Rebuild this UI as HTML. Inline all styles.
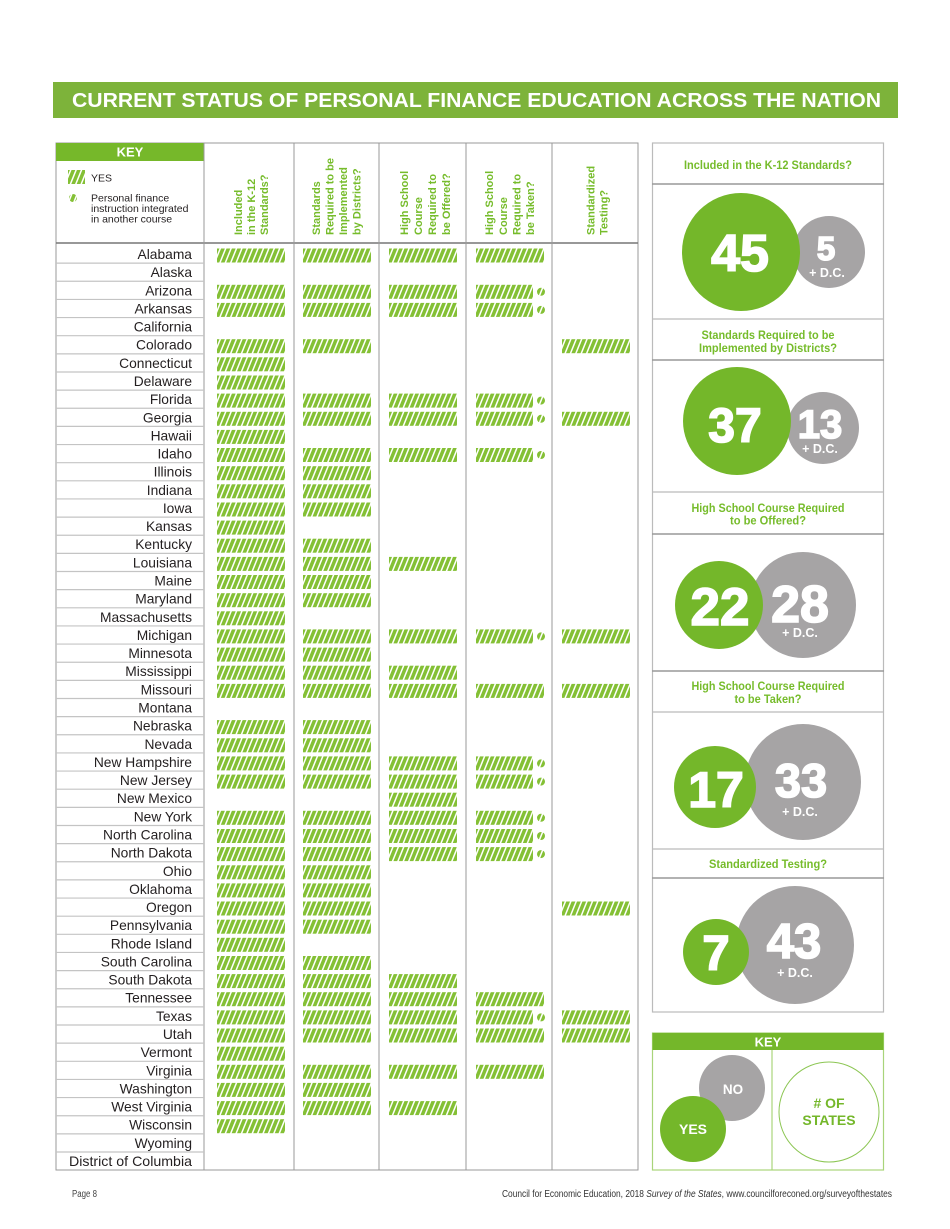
<!DOCTYPE html>
<html><head><meta charset="utf-8"><style>
html,body{margin:0;padding:0;background:#fff;}
svg{display:block;}
.b{fill:url(#st);}
.lab{font-size:13.8px;fill:#231f20;text-anchor:end;}
.hd{font-size:11px;font-weight:bold;fill:#76bc2b;}
.ph{font-size:12px;font-weight:bold;fill:#76bc2b;text-anchor:middle;}
.num{font-weight:bold;fill:#fff;text-anchor:middle;stroke:#fff;stroke-width:1.6;}
.dc{font-size:12.5px;font-weight:bold;fill:#fff;text-anchor:middle;}
</style></head><body>
<svg width="950" height="1229" viewBox="0 0 950 1229" font-family="'Liberation Sans', sans-serif">
<defs>
<pattern id="st" width="5" height="30" patternUnits="userSpaceOnUse" patternTransform="rotate(22)">
<rect width="5" height="30" fill="#fff"/><rect width="3.5" height="30" fill="#84c035"/>
</pattern>
<rect id="c1" class="b" x="217" width="68" height="14"/>
<rect id="c2" class="b" x="303" width="68" height="14"/>
<rect id="c3" class="b" x="389" width="68" height="14"/>
<rect id="c4" class="b" x="476" width="68" height="14"/>
<g id="c4i"><rect class="b" x="476" width="57" height="14"/><circle class="b" cx="541" cy="7" r="4"/></g>
<rect id="c5" class="b" x="562" width="68" height="14"/>
</defs>

<!-- Title -->
<rect x="53" y="82" width="845" height="36" fill="#7db33a"/>
<text x="72" y="107" font-size="20" font-weight="bold" fill="#fff" textLength="809" lengthAdjust="spacingAndGlyphs">CURRENT STATUS OF PERSONAL FINANCE EDUCATION ACROSS THE NATION</text>

<!-- Table frame -->
<rect x="56" y="143" width="582" height="1027" fill="none" stroke="#999" stroke-width="1"/>
<rect x="56" y="143" width="148" height="18" fill="#76b82a"/>
<text x="130" y="156.5" font-size="13" font-weight="bold" fill="#fff" text-anchor="middle">KEY</text>
<line x1="56" y1="243" x2="638" y2="243" stroke="#777" stroke-width="1.5"/>
<g stroke="#999" stroke-width="1">
<line x1="204" y1="143" x2="204" y2="1170"/>
<line x1="294" y1="143" x2="294" y2="1170"/>
<line x1="379" y1="143" x2="379" y2="1170"/>
<line x1="466" y1="143" x2="466" y2="1170"/>
<line x1="552" y1="143" x2="552" y2="1170"/>
</g>

<!-- left key -->
<rect class="b" x="68" y="170" width="17" height="14"/>
<text x="91" y="181.5" font-size="10.5" fill="#231f20">YES</text>
<circle class="b" cx="73" cy="198" r="4"/>
<text font-size="10.5" fill="#231f20"><tspan x="91" y="201.5">Personal finance</tspan><tspan x="91" y="212">instruction integrated</tspan><tspan x="91" y="222.5">in another course</tspan></text>

<!-- column headers -->
<g class="hd">
<text transform="translate(242,235) rotate(-90)">Included</text>
<text transform="translate(255,235) rotate(-90)">in the K-12</text>
<text transform="translate(268,235) rotate(-90)">Standards?</text>
<text transform="translate(320,235) rotate(-90)">Standards</text>
<text transform="translate(333.5,235) rotate(-90)">Required to be</text>
<text transform="translate(347,235) rotate(-90)">Implemented</text>
<text transform="translate(360.5,235) rotate(-90)">by Districts?</text>
<text transform="translate(408,235) rotate(-90)">High School</text>
<text transform="translate(422,235) rotate(-90)">Course</text>
<text transform="translate(436,235) rotate(-90)">Required to</text>
<text transform="translate(450,235) rotate(-90)">be Offered?</text>
<text transform="translate(493,235) rotate(-90)">High School</text>
<text transform="translate(507,235) rotate(-90)">Course</text>
<text transform="translate(520.5,235) rotate(-90)">Required to</text>
<text transform="translate(534,235) rotate(-90)">be Taken?</text>
<text transform="translate(594.5,235) rotate(-90)">Standardized</text>
<text transform="translate(607.5,235) rotate(-90)">Testing?</text>
</g>

<!-- row separators -->
<g stroke="#c4c4c4" stroke-width="1.2">
<line x1="56" x2="204" y1="263.14" y2="263.14"/><line x1="56" x2="204" y1="281.28" y2="281.28"/><line x1="56" x2="204" y1="299.42" y2="299.42"/><line x1="56" x2="204" y1="317.56" y2="317.56"/><line x1="56" x2="204" y1="335.7" y2="335.7"/><line x1="56" x2="204" y1="353.84" y2="353.84"/><line x1="56" x2="204" y1="371.98" y2="371.98"/><line x1="56" x2="204" y1="390.12" y2="390.12"/><line x1="56" x2="204" y1="408.26" y2="408.26"/><line x1="56" x2="204" y1="426.4" y2="426.4"/>
<line x1="56" x2="204" y1="444.54" y2="444.54"/><line x1="56" x2="204" y1="462.68" y2="462.68"/><line x1="56" x2="204" y1="480.82" y2="480.82"/><line x1="56" x2="204" y1="498.96" y2="498.96"/><line x1="56" x2="204" y1="517.1" y2="517.1"/><line x1="56" x2="204" y1="535.24" y2="535.24"/><line x1="56" x2="204" y1="553.38" y2="553.38"/><line x1="56" x2="204" y1="571.52" y2="571.52"/><line x1="56" x2="204" y1="589.66" y2="589.66"/><line x1="56" x2="204" y1="607.8" y2="607.8"/>
<line x1="56" x2="204" y1="625.94" y2="625.94"/><line x1="56" x2="204" y1="644.08" y2="644.08"/><line x1="56" x2="204" y1="662.22" y2="662.22"/><line x1="56" x2="204" y1="680.36" y2="680.36"/><line x1="56" x2="204" y1="698.5" y2="698.5"/><line x1="56" x2="204" y1="716.64" y2="716.64"/><line x1="56" x2="204" y1="734.78" y2="734.78"/><line x1="56" x2="204" y1="752.92" y2="752.92"/><line x1="56" x2="204" y1="771.06" y2="771.06"/><line x1="56" x2="204" y1="789.2" y2="789.2"/>
<line x1="56" x2="204" y1="807.34" y2="807.34"/><line x1="56" x2="204" y1="825.48" y2="825.48"/><line x1="56" x2="204" y1="843.62" y2="843.62"/><line x1="56" x2="204" y1="861.76" y2="861.76"/><line x1="56" x2="204" y1="879.9" y2="879.9"/><line x1="56" x2="204" y1="898.04" y2="898.04"/><line x1="56" x2="204" y1="916.18" y2="916.18"/><line x1="56" x2="204" y1="934.32" y2="934.32"/><line x1="56" x2="204" y1="952.46" y2="952.46"/><line x1="56" x2="204" y1="970.6" y2="970.6"/>
<line x1="56" x2="204" y1="988.74" y2="988.74"/><line x1="56" x2="204" y1="1006.88" y2="1006.88"/><line x1="56" x2="204" y1="1025.02" y2="1025.02"/><line x1="56" x2="204" y1="1043.16" y2="1043.16"/><line x1="56" x2="204" y1="1061.3" y2="1061.3"/><line x1="56" x2="204" y1="1079.44" y2="1079.44"/><line x1="56" x2="204" y1="1097.58" y2="1097.58"/><line x1="56" x2="204" y1="1115.72" y2="1115.72"/><line x1="56" x2="204" y1="1133.86" y2="1133.86"/><line x1="56" x2="204" y1="1152" y2="1152"/>
</g>

<!-- state labels -->
<g class="lab">
<text x="192" y="259">Alabama</text>
<text x="192" y="277.1">Alaska</text>
<text x="192" y="295.3">Arizona</text>
<text x="192" y="313.4">Arkansas</text>
<text x="192" y="331.6">California</text>
<text x="192" y="349.7">Colorado</text>
<text x="192" y="367.8">Connecticut</text>
<text x="192" y="386">Delaware</text>
<text x="192" y="404.1">Florida</text>
<text x="192" y="422.3">Georgia</text>
<text x="192" y="440.4">Hawaii</text>
<text x="192" y="458.5">Idaho</text>
<text x="192" y="476.7">Illinois</text>
<text x="192" y="494.8">Indiana</text>
<text x="192" y="513">Iowa</text>
<text x="192" y="531.1">Kansas</text>
<text x="192" y="549.2">Kentucky</text>
<text x="192" y="567.4">Louisiana</text>
<text x="192" y="585.5">Maine</text>
<text x="192" y="603.7">Maryland</text>
<text x="192" y="621.8">Massachusetts</text>
<text x="192" y="639.9">Michigan</text>
<text x="192" y="658.1">Minnesota</text>
<text x="192" y="676.2">Mississippi</text>
<text x="192" y="694.4">Missouri</text>
<text x="192" y="712.5">Montana</text>
<text x="192" y="730.6">Nebraska</text>
<text x="192" y="748.8">Nevada</text>
<text x="192" y="766.9">New Hampshire</text>
<text x="192" y="785.1">New Jersey</text>
<text x="192" y="803.2">New Mexico</text>
<text x="192" y="821.3">New York</text>
<text x="192" y="839.5">North Carolina</text>
<text x="192" y="857.6">North Dakota</text>
<text x="192" y="875.8">Ohio</text>
<text x="192" y="893.9">Oklahoma</text>
<text x="192" y="912">Oregon</text>
<text x="192" y="930.2">Pennsylvania</text>
<text x="192" y="948.3">Rhode Island</text>
<text x="192" y="966.5">South Carolina</text>
<text x="192" y="984.6">South Dakota</text>
<text x="192" y="1002.7">Tennessee</text>
<text x="192" y="1020.9">Texas</text>
<text x="192" y="1039">Utah</text>
<text x="192" y="1057.2">Vermont</text>
<text x="192" y="1075.3">Virginia</text>
<text x="192" y="1093.4">Washington</text>
<text x="192" y="1111.6">West Virginia</text>
<text x="192" y="1129.7">Wisconsin</text>
<text x="192" y="1147.9">Wyoming</text>
<text x="192" y="1166" textLength="123" lengthAdjust="spacingAndGlyphs">District of Columbia</text>
</g>

<!-- bars -->
<g transform="translate(0,248.5)"><use href="#c1"/><use href="#c2"/><use href="#c3"/><use href="#c4"/></g>
<g transform="translate(0,284.8)"><use href="#c1"/><use href="#c2"/><use href="#c3"/><use href="#c4i"/></g>
<g transform="translate(0,302.9)"><use href="#c1"/><use href="#c2"/><use href="#c3"/><use href="#c4i"/></g>
<g transform="translate(0,339.2)"><use href="#c1"/><use href="#c2"/><use href="#c5"/></g>
<g transform="translate(0,357.3)"><use href="#c1"/></g>
<g transform="translate(0,375.5)"><use href="#c1"/></g>
<g transform="translate(0,393.6)"><use href="#c1"/><use href="#c2"/><use href="#c3"/><use href="#c4i"/></g>
<g transform="translate(0,411.8)"><use href="#c1"/><use href="#c2"/><use href="#c3"/><use href="#c4i"/><use href="#c5"/></g>
<g transform="translate(0,429.9)"><use href="#c1"/></g>
<g transform="translate(0,448)"><use href="#c1"/><use href="#c2"/><use href="#c3"/><use href="#c4i"/></g>
<g transform="translate(0,466.2)"><use href="#c1"/><use href="#c2"/></g>
<g transform="translate(0,484.3)"><use href="#c1"/><use href="#c2"/></g>
<g transform="translate(0,502.5)"><use href="#c1"/><use href="#c2"/></g>
<g transform="translate(0,520.6)"><use href="#c1"/></g>
<g transform="translate(0,538.7)"><use href="#c1"/><use href="#c2"/></g>
<g transform="translate(0,556.9)"><use href="#c1"/><use href="#c2"/><use href="#c3"/></g>
<g transform="translate(0,575)"><use href="#c1"/><use href="#c2"/></g>
<g transform="translate(0,593.2)"><use href="#c1"/><use href="#c2"/></g>
<g transform="translate(0,611.3)"><use href="#c1"/></g>
<g transform="translate(0,629.4)"><use href="#c1"/><use href="#c2"/><use href="#c3"/><use href="#c4i"/><use href="#c5"/></g>
<g transform="translate(0,647.6)"><use href="#c1"/><use href="#c2"/></g>
<g transform="translate(0,665.7)"><use href="#c1"/><use href="#c2"/><use href="#c3"/></g>
<g transform="translate(0,683.9)"><use href="#c1"/><use href="#c2"/><use href="#c3"/><use href="#c4"/><use href="#c5"/></g>
<g transform="translate(0,720.1)"><use href="#c1"/><use href="#c2"/></g>
<g transform="translate(0,738.3)"><use href="#c1"/><use href="#c2"/></g>
<g transform="translate(0,756.4)"><use href="#c1"/><use href="#c2"/><use href="#c3"/><use href="#c4i"/></g>
<g transform="translate(0,774.6)"><use href="#c1"/><use href="#c2"/><use href="#c3"/><use href="#c4i"/></g>
<g transform="translate(0,792.7)"><use href="#c3"/></g>
<g transform="translate(0,810.8)"><use href="#c1"/><use href="#c2"/><use href="#c3"/><use href="#c4i"/></g>
<g transform="translate(0,829)"><use href="#c1"/><use href="#c2"/><use href="#c3"/><use href="#c4i"/></g>
<g transform="translate(0,847.1)"><use href="#c1"/><use href="#c2"/><use href="#c3"/><use href="#c4i"/></g>
<g transform="translate(0,865.3)"><use href="#c1"/><use href="#c2"/></g>
<g transform="translate(0,883.4)"><use href="#c1"/><use href="#c2"/></g>
<g transform="translate(0,901.5)"><use href="#c1"/><use href="#c2"/><use href="#c5"/></g>
<g transform="translate(0,919.7)"><use href="#c1"/><use href="#c2"/></g>
<g transform="translate(0,937.8)"><use href="#c1"/></g>
<g transform="translate(0,956)"><use href="#c1"/><use href="#c2"/></g>
<g transform="translate(0,974.1)"><use href="#c1"/><use href="#c2"/><use href="#c3"/></g>
<g transform="translate(0,992.2)"><use href="#c1"/><use href="#c2"/><use href="#c3"/><use href="#c4"/></g>
<g transform="translate(0,1010.4)"><use href="#c1"/><use href="#c2"/><use href="#c3"/><use href="#c4i"/><use href="#c5"/></g>
<g transform="translate(0,1028.5)"><use href="#c1"/><use href="#c2"/><use href="#c3"/><use href="#c4"/><use href="#c5"/></g>
<g transform="translate(0,1046.7)"><use href="#c1"/></g>
<g transform="translate(0,1064.8)"><use href="#c1"/><use href="#c2"/><use href="#c3"/><use href="#c4"/></g>
<g transform="translate(0,1082.9)"><use href="#c1"/><use href="#c2"/></g>
<g transform="translate(0,1101.1)"><use href="#c1"/><use href="#c2"/><use href="#c3"/></g>
<g transform="translate(0,1119.2)"><use href="#c1"/></g>

<!-- Right panel -->
<rect x="652.5" y="143" width="231" height="869" fill="none" stroke="#bbb" stroke-width="1.2"/>
<g stroke="#999" stroke-width="1.5">
<line x1="652" x2="884" y1="184" y2="184"/>
<line x1="652" x2="884" y1="360" y2="360"/>
<line x1="652" x2="884" y1="534" y2="534"/>
<line x1="652" x2="884" y1="671" y2="671"/>
<line x1="652" x2="884" y1="878" y2="878"/>
</g>
<g stroke="#bbb" stroke-width="1.2">
<line x1="652" x2="884" y1="319" y2="319"/>
<line x1="652" x2="884" y1="492" y2="492"/>
<line x1="652" x2="884" y1="712" y2="712"/>
<line x1="652" x2="884" y1="849" y2="849"/>
</g>

<text class="ph" x="768" y="169" textLength="168" lengthAdjust="spacingAndGlyphs">Included in the K-12 Standards?</text>
<text class="ph" x="768" y="339" textLength="133" lengthAdjust="spacingAndGlyphs">Standards Required to be</text>
<text class="ph" x="768" y="352" textLength="138" lengthAdjust="spacingAndGlyphs">Implemented by Districts?</text>
<text class="ph" x="768" y="512" textLength="153" lengthAdjust="spacingAndGlyphs">High School Course Required</text>
<text class="ph" x="768" y="524.5" textLength="76" lengthAdjust="spacingAndGlyphs">to be Offered?</text>
<text class="ph" x="768" y="690" textLength="153" lengthAdjust="spacingAndGlyphs">High School Course Required</text>
<text class="ph" x="768" y="703" textLength="67" lengthAdjust="spacingAndGlyphs">to be Taken?</text>
<text class="ph" x="768" y="868" textLength="118" lengthAdjust="spacingAndGlyphs">Standardized Testing?</text>

<!-- S1 -->
<circle cx="829" cy="252" r="36" fill="#a6a4a5"/>
<circle cx="741" cy="252" r="59" fill="#74b72a"/>
<text class="num" x="740" y="271" font-size="52">45</text>
<text class="num" x="826" y="260" font-size="33">5</text>
<text class="dc" x="827" y="277">+ D.C.</text>
<!-- S2 -->
<circle cx="823" cy="428" r="36" fill="#a6a4a5"/>
<circle cx="737" cy="421" r="54" fill="#74b72a"/>
<text class="num" x="735" y="442" font-size="48">37</text>
<text class="num" x="820" y="438" font-size="40">13</text>
<text class="dc" x="820" y="453">+ D.C.</text>
<!-- S3 -->
<circle cx="803" cy="605" r="53" fill="#a6a4a5"/>
<circle cx="719" cy="605" r="44" fill="#74b72a"/>
<text class="num" x="720" y="625" font-size="53">22</text>
<text class="num" x="800" y="622" font-size="52">28</text>
<text class="dc" x="800" y="637">+ D.C.</text>
<!-- S4 -->
<circle cx="803" cy="782" r="58" fill="#a6a4a5"/>
<circle cx="715" cy="787" r="41" fill="#74b72a"/>
<text class="num" x="716" y="807" font-size="50">17</text>
<text class="num" x="801" y="797" font-size="47">33</text>
<text class="dc" x="800" y="816">+ D.C.</text>
<!-- S5 -->
<circle cx="795" cy="945" r="59" fill="#a6a4a5"/>
<circle cx="716" cy="952" r="33" fill="#74b72a"/>
<text class="num" x="716" y="970" font-size="49">7</text>
<text class="num" x="794" y="958" font-size="49">43</text>
<text class="dc" x="795" y="977">+ D.C.</text>

<!-- bottom key -->
<rect x="652.5" y="1033" width="231" height="137" fill="#fff" stroke="#a9d47a" stroke-width="1.2"/>
<rect x="652.5" y="1033" width="231" height="17" fill="#74b72a"/>
<text x="768" y="1046.5" font-size="13" font-weight="bold" fill="#fff" text-anchor="middle">KEY</text>
<line x1="772" y1="1050" x2="772" y2="1170" stroke="#a9d47a" stroke-width="1.2"/>
<circle cx="732" cy="1088" r="33" fill="#a6a4a5"/>
<circle cx="693" cy="1129" r="33" fill="#74b72a"/>
<text x="733" y="1094" font-size="13.5" font-weight="bold" fill="#fff" text-anchor="middle">NO</text>
<text x="693" y="1134" font-size="14" font-weight="bold" fill="#fff" text-anchor="middle">YES</text>
<circle cx="829" cy="1112" r="50" fill="none" stroke="#8cc653" stroke-width="1"/>
<text x="829" y="1108" font-size="14" font-weight="bold" fill="#74b72a" text-anchor="middle"># OF</text>
<text x="829" y="1125" font-size="14" font-weight="bold" fill="#74b72a" text-anchor="middle">STATES</text>

<!-- footer -->
<text x="72" y="1197" font-size="10" fill="#444" textLength="25" lengthAdjust="spacingAndGlyphs">Page 8</text>
<text x="502" y="1197" font-size="10" fill="#333" textLength="390" lengthAdjust="spacingAndGlyphs">Council for Economic Education, 2018 <tspan font-style="italic">Survey of the States</tspan>, www.councilforeconed.org/surveyofthestates</text>
</svg>
</body></html>
